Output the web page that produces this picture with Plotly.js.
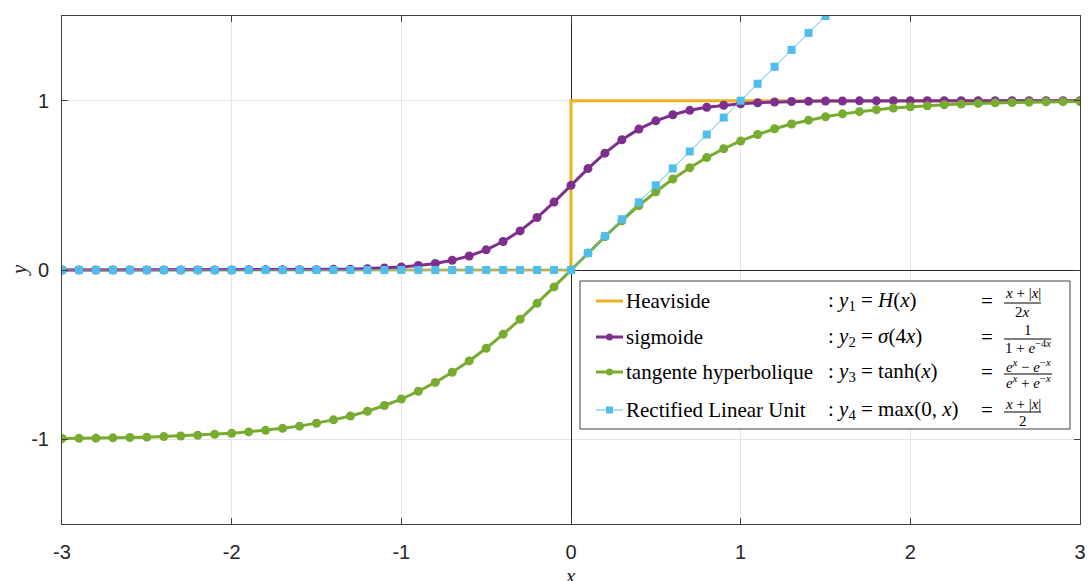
<!DOCTYPE html>
<html>
<head>
<meta charset="utf-8">
<script src="https://cdn.plot.ly/plotly-3.0.1.min.js"></script>
<style>html,body{margin:0;padding:0;background:#fff;}#chart{width:1088px;height:581px;}</style>
</head>
<body>
<div id="chart"></div>
<script>
// ---- data ----
const xValues = [-3.0,-2.9,-2.8,-2.7,-2.6,-2.5,-2.4,-2.3,-2.2,-2.1,-2.0,-1.9,-1.8,-1.7,-1.6,-1.5,-1.4,-1.3,-1.2,-1.1,-1.0,-0.9,-0.8,-0.7,-0.6,-0.5,-0.4,-0.3,-0.2,-0.1,0.0,0.1,0.2,0.3,0.4,0.5,0.6,0.7,0.8,0.9,1.0,1.1,1.2,1.3,1.4,1.5,1.6,1.7,1.8,1.9,2.0,2.1,2.2,2.3,2.4,2.5,2.6,2.7,2.8,2.9,3.0];
const heavisideX = [-3, 0, 0, 3];
const heavisideY = [0, 0, 1, 1];
const sigmoidY = [0.000,0.000,0.000,0.000,0.000,0.000,0.000,0.000,0.000,0.000,0.000,0.001,0.001,0.001,0.002,0.002,0.004,0.005,0.008,0.012,0.018,0.027,0.039,0.057,0.083,0.119,0.168,0.231,0.310,0.401,0.500,0.599,0.690,0.769,0.832,0.881,0.917,0.943,0.961,0.973,0.982,0.988,0.992,0.995,0.996,0.998,0.998,0.999,0.999,1.000,1.000,1.000,1.000,1.000,1.000,1.000,1.000,1.000,1.000,1.000,1.000];
const tanhY = [-0.995,-0.994,-0.993,-0.991,-0.989,-0.987,-0.984,-0.980,-0.976,-0.970,-0.964,-0.956,-0.947,-0.935,-0.922,-0.905,-0.885,-0.862,-0.834,-0.800,-0.762,-0.716,-0.664,-0.604,-0.537,-0.462,-0.380,-0.291,-0.197,-0.100,0.000,0.100,0.197,0.291,0.380,0.462,0.537,0.604,0.664,0.716,0.762,0.800,0.834,0.862,0.885,0.905,0.922,0.935,0.947,0.956,0.964,0.970,0.976,0.980,0.984,0.987,0.989,0.991,0.993,0.994,0.995];
const reluY = [0,0,0,0,0,0,0,0,0,0,0,0,0,0,0,0,0,0,0,0,0,0,0,0,0,0,0,0,0,0,0,0.1,0.2,0.3,0.4,0.5,0.6,0.7,0.8,0.9,1.0,1.1,1.2,1.3,1.4,1.5,1.6,1.7,1.8,1.9,2.0,2.1,2.2,2.3,2.4,2.5,2.6,2.7,2.8,2.9,3.0];
const xTickVals = [-3,-2,-1,0,1,2,3];
const xTickLabels = ['-3','-2','-1','0','1','2','3'];
const yTickVals = [-1,0,1];
const yTickLabels = ['-1','0','1'];
const xTitle = '<i>x</i>';
const yTitle = '<i>y</i>';
const seriesNames = ['Heaviside','sigmoide','tangente hyperbolique','Rectified Linear Unit'];
const seriesFormulas = [
  ': <i>y</i><sub>1</sub> = <i>H</i>(<i>x</i>)',
  ': <i>y</i><sub>2</sub> = <i>σ</i>(4<i>x</i>)',
  ': <i>y</i><sub>3</sub> = tanh(<i>x</i>)',
  ': <i>y</i><sub>4</sub> = max(0, <i>x</i>)'
];
const fracNumerators = ['<i>x</i> + |<i>x</i>|', '1', '<i>e</i><sup><i>x</i></sup> − <i>e</i><sup>−<i>x</i></sup>', '<i>x</i> + |<i>x</i>|'];
const fracDenominators = ['2<i>x</i>', '1 + <i>e</i><sup>−4<i>x</i></sup>', '<i>e</i><sup><i>x</i></sup> + <i>e</i><sup>−<i>x</i></sup>', '2'];

// ---- styles ----
const colors = ['#EDB120', '#7E2F8E', '#77AC30', '#4DBEEE'];
const SERIF = 'Liberation Serif, Times New Roman, serif';
const M = {l: 62, r: 8, t: 16, b: 57};
const W = 1088, H = 581;
const PW = W - M.l - M.r, PH = H - M.t - M.b;
const px = X => (X - M.l) / PW;
const py = Y => (H - M.b - Y) / PH;

const traces = [
  {x: heavisideX, y: heavisideY, type: 'scatter', mode: 'lines', name: seriesNames[0],
   line: {color: colors[0], width: 3}, showlegend: false},
  {x: xValues, y: sigmoidY, type: 'scatter', mode: 'lines+markers', name: seriesNames[1],
   line: {color: colors[1], width: 3}, marker: {color: colors[1], size: 9, symbol: 'circle'}, showlegend: false},
  {x: xValues, y: tanhY, type: 'scatter', mode: 'lines+markers', name: seriesNames[2],
   line: {color: colors[2], width: 3}, marker: {color: colors[2], size: 9, symbol: 'circle'}, showlegend: false},
  {x: xValues, y: reluY, type: 'scatter', mode: 'lines+markers', name: seriesNames[3],
   line: {color: colors[3], width: 1}, marker: {color: colors[3], size: 8, symbol: 'square'}, showlegend: false}
];

// legend (custom)
const box = {x0: 580, x1: 1070, y0: 281, y1: 429};
const rowY = [301, 337, 372, 410];
const shapes = [{type: 'rect', xref: 'paper', yref: 'paper', x0: px(box.x0), x1: px(box.x1), y0: py(box.y1), y1: py(box.y0),
  fillcolor: '#ffffff', line: {color: '#404040', width: 1}, layer: 'above'}];
const annotations = [];
const lineW = [3, 3, 3, 1];
const fracBar = [[1004, 1041], [1004, 1051], [1004, 1052], [1004, 1041]];
const fracOff = [[-10, 9], [-9, 8], [-8, 8], [-8, 9]];
rowY.forEach((Y, i) => {
  shapes.push({type: 'line', xref: 'paper', yref: 'paper', x0: px(596), x1: px(623), y0: py(Y), y1: py(Y),
    line: {color: colors[i], width: lineW[i]}, layer: 'above'});
  if (i === 1 || i === 2) {
    shapes.push({type: 'circle', xref: 'paper', yref: 'paper', xsizemode: 'pixel', ysizemode: 'pixel',
      xanchor: px(609.5), yanchor: py(Y), x0: -3.5, x1: 3.5, y0: -3.5, y1: 3.5,
      fillcolor: colors[i], line: {color: colors[i], width: 0}, layer: 'above'});
  } else if (i === 3) {
    shapes.push({type: 'rect', xref: 'paper', yref: 'paper', xsizemode: 'pixel', ysizemode: 'pixel',
      xanchor: px(609.5), yanchor: py(Y), x0: -3.5, x1: 3.5, y0: -3.5, y1: 3.5,
      fillcolor: colors[i], line: {color: colors[i], width: 0}, layer: 'above'});
  }
  annotations.push({xref: 'paper', yref: 'paper', x: px(624), y: py(Y), xanchor: 'left', yanchor: 'middle',
    text: seriesNames[i], showarrow: false, font: {family: SERIF, size: 21, color: '#000'}});
  annotations.push({xref: 'paper', yref: 'paper', x: px(826), y: py(Y), xanchor: 'left', yanchor: 'middle',
    text: seriesFormulas[i], showarrow: false, font: {family: SERIF, size: 21, color: '#000'}});
  annotations.push({xref: 'paper', yref: 'paper', x: px(979), y: py(Y), xanchor: 'left', yanchor: 'middle',
    text: '=', showarrow: false, font: {family: SERIF, size: 21, color: '#000'}});
  const bY = Y + 2;
  const cx = (fracBar[i][0] + fracBar[i][1]) / 2;
  shapes.push({type: 'line', xref: 'paper', yref: 'paper', x0: px(fracBar[i][0]), x1: px(fracBar[i][1]), y0: py(bY), y1: py(bY),
    line: {color: '#000', width: 1}, layer: 'above'});
  annotations.push({xref: 'paper', yref: 'paper', x: px(cx), y: py(bY + fracOff[i][0]), xanchor: 'center', yanchor: 'middle',
    text: fracNumerators[i], showarrow: false, font: {family: SERIF, size: 15, color: '#000'}});
  annotations.push({xref: 'paper', yref: 'paper', x: px(cx), y: py(bY + fracOff[i][1]), xanchor: 'center', yanchor: 'middle',
    text: fracDenominators[i], showarrow: false, font: {family: SERIF, size: 15, color: '#000'}});
});

// axis titles (placed like the reference)
annotations.push({xref: 'paper', yref: 'paper', x: px(570), y: py(576), xanchor: 'center', yanchor: 'middle',
  text: xTitle, showarrow: false, font: {family: SERIF, size: 21, color: '#262626'}});
annotations.push({xref: 'paper', yref: 'paper', x: px(19), y: py(270), xanchor: 'center', yanchor: 'middle',
  text: yTitle, textangle: -90, showarrow: false, font: {family: SERIF, size: 21, color: '#262626'}});

const axisCommon = {
  showgrid: true, gridcolor: '#e6e6e6', gridwidth: 1,
  zeroline: true, zerolinecolor: '#262626', zerolinewidth: 1,
  showline: true, linecolor: '#404040', linewidth: 1, mirror: 'ticks',
  ticks: 'inside', ticklen: 6, tickcolor: '#404040', tickwidth: 1,
  tickfont: {family: 'Liberation Sans, Arial, sans-serif', size: 20, color: '#262626'},
  fixedrange: true
};

const layout = {
  width: W, height: H,
  margin: M,
  paper_bgcolor: '#ffffff', plot_bgcolor: '#ffffff',
  showlegend: false,
  xaxis: Object.assign({}, axisCommon, {range: [-3, 3], tickmode: 'array', tickvals: xTickVals, ticktext: xTickLabels,
    ticklabelstandoff: 10}),
  yaxis: Object.assign({}, axisCommon, {range: [-1.5, 1.5], tickmode: 'array', tickvals: yTickVals, ticktext: yTickLabels,
    ticklabelstandoff: 8}),
  shapes: shapes,
  annotations: annotations
};

Plotly.newPlot('chart', traces, layout, {staticPlot: true, displayModeBar: false});
</script>
</body>
</html>
